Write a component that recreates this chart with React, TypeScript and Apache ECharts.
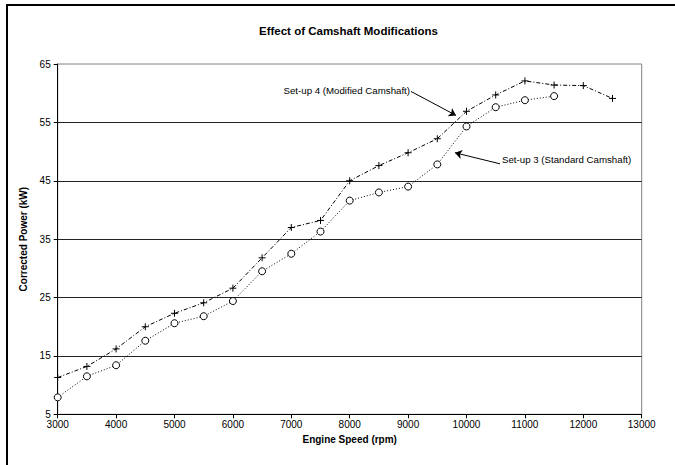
import { useEffect, useRef } from "react";
import * as echarts from "echarts";

// Engine speed (rpm) and corrected power (kW) for each camshaft set-up
const rpmModified = [3000, 3500, 4000, 4500, 5000, 5500, 6000, 6500, 7000, 7500, 8000, 8500, 9000, 9500, 10000, 10500, 11000, 11500, 12000, 12500];
const powerModified = [11.3, 13.2, 16.2, 20.0, 22.3, 24.1, 26.6, 31.8, 37.0, 38.2, 45.0, 47.6, 49.8, 52.2, 56.9, 59.7, 62.1, 61.4, 61.3, 59.1];

const rpmStandard = [3000, 3500, 4000, 4500, 5000, 5500, 6000, 6500, 7000, 7500, 8000, 8500, 9000, 9500, 10000, 10500, 11000, 11500];
const powerStandard = [7.9, 11.5, 13.4, 17.6, 20.6, 21.8, 24.4, 29.5, 32.5, 36.3, 41.6, 43.0, 44.0, 47.8, 54.3, 57.6, 58.8, 59.5];

const powerTicks = [5, 15, 25, 35, 45, 55, 65];
const powerGridLines = [15, 25, 35, 45, 55];

const labelModified = "Set-up 4 (Modified Camshaft)";
const labelStandard = "Set-up 3 (Standard Camshaft)";

// Callout arrows in data units: [tail, head]
const arrowModified = [[9050, 60.3], [9820, 56.2]];
const arrowStandard = [[10574, 47.9], [9802, 49.8]];

const FONT = "'Liberation Sans', Arial, Helvetica, sans-serif";

export default function App() {
  const ref = useRef<HTMLDivElement>(null);

  useEffect(() => {
    if (!ref.current) return;
    const chart = echarts.init(ref.current, undefined, { renderer: "svg" });

    const option: any = {
      animation: false,
      backgroundColor: "#fff",
      title: {
        text: "Effect of Camshaft Modifications",
        left: 254,
        top: 20,
        textStyle: { fontFamily: FONT, fontSize: 11.5, fontWeight: "bold", color: "#000" },
      },
      grid: {
        left: 57.7,
        right: 33.3,
        top: 64,
        bottom: 50.7,
        show: true,
        borderColor: "#808080",
        borderWidth: 1,
        backgroundColor: "transparent",
      },
      xAxis: {
        type: "value",
        min: 3000,
        max: 13000,
        interval: 1000,
        name: "Engine Speed (rpm)",
        nameLocation: "middle",
        nameGap: 18,
        nameTextStyle: { fontFamily: FONT, fontSize: 10, fontWeight: "bold", color: "#000" },
        axisLine: { show: true, lineStyle: { color: "#000", width: 1 } },
        axisTick: { show: true, length: 4, inside: false, lineStyle: { color: "#000" } },
        axisLabel: { fontFamily: FONT, fontSize: 10, color: "#000", margin: 5, formatter: (v: number) => String(v) },
        splitLine: { show: false },
      },
      yAxis: {
        type: "value",
        min: 5,
        max: 65,
        name: "Corrected Power (kW)",
        nameLocation: "middle",
        nameGap: 25,
        nameTextStyle: { fontFamily: FONT, fontSize: 10, fontWeight: "bold", color: "#000" },
        axisLine: { show: true, lineStyle: { color: "#000", width: 1 } },
        axisTick: { show: true, length: 4, inside: false, customValues: powerTicks, lineStyle: { color: "#000" } },
        axisLabel: { fontFamily: FONT, fontSize: 10, color: "#000", margin: 7, customValues: powerTicks },
        splitLine: { show: false },
      },
      series: [
        {
          name: labelStandard,
          type: "line",
          data: rpmStandard.map((r, i) => [r, powerStandard[i]]),
          symbol: "circle",
          symbolSize: 7,
          itemStyle: { color: "#fff", borderColor: "#000", borderWidth: 1 },
          lineStyle: { color: "#000", width: 1, type: [1, 2] },
          z: 3,
          markLine: {
            silent: true,
            symbol: "none",
            label: { show: false },
            lineStyle: { color: "#222", width: 1, type: "solid" },
            data: powerGridLines.map((v) => ({ yAxis: v })),
            z: 1,
          },
        },
        {
          name: labelModified,
          type: "line",
          data: rpmModified.map((r, i) => [r, powerModified[i]]),
          symbol: "path://M0,4L8,4M4,0L4,8",
          symbolSize: 7,
          itemStyle: { color: "#000", borderColor: "#000", borderWidth: 1 },
          lineStyle: { color: "#000", width: 1, type: [4, 2, 1, 2] },
          z: 4,
          markLine: {
            silent: true,
            symbol: ["none", "arrow"],
            symbolSize: 7,
            label: { show: false },
            lineStyle: { color: "#000", width: 1, type: "solid" },
            data: [
              [{ coord: arrowModified[0] }, { coord: arrowModified[1] }],
              [{ coord: arrowStandard[0] }, { coord: arrowStandard[1] }],
            ],
          },
        },
      ],
    };

    chart.setOption(option);

    const pm = chart.convertToPixel({ gridIndex: 0 }, arrowModified[0]) as number[];
    const ps = chart.convertToPixel({ gridIndex: 0 }, arrowStandard[0]) as number[];

    chart.setOption({
      graphic: [
        // chart frame
        { type: "line", shape: { x1: 7, y1: 5, x2: 7, y2: 470 }, style: { stroke: "#000", lineWidth: 2 } },
        { type: "line", shape: { x1: 6, y1: 5, x2: 680, y2: 5 }, style: { stroke: "#000", lineWidth: 2 } },
        {
          type: "text",
          x: pm[0] - 1,
          y: pm[1] - 1,
          style: { text: labelModified, align: "right", verticalAlign: "middle", fontFamily: FONT, fontSize: 9.7, fill: "#000" },
        },
        {
          type: "text",
          x: ps[0] + 2,
          y: ps[1] - 4,
          style: { text: labelStandard, align: "left", verticalAlign: "middle", fontFamily: FONT, fontSize: 9.7, fill: "#000" },
        },
      ],
    });

    return () => chart.dispose();
  }, []);

  return <div ref={ref} style={{ position: "absolute", left: 0, top: 0, width: 675, height: 465 }} />;
}
